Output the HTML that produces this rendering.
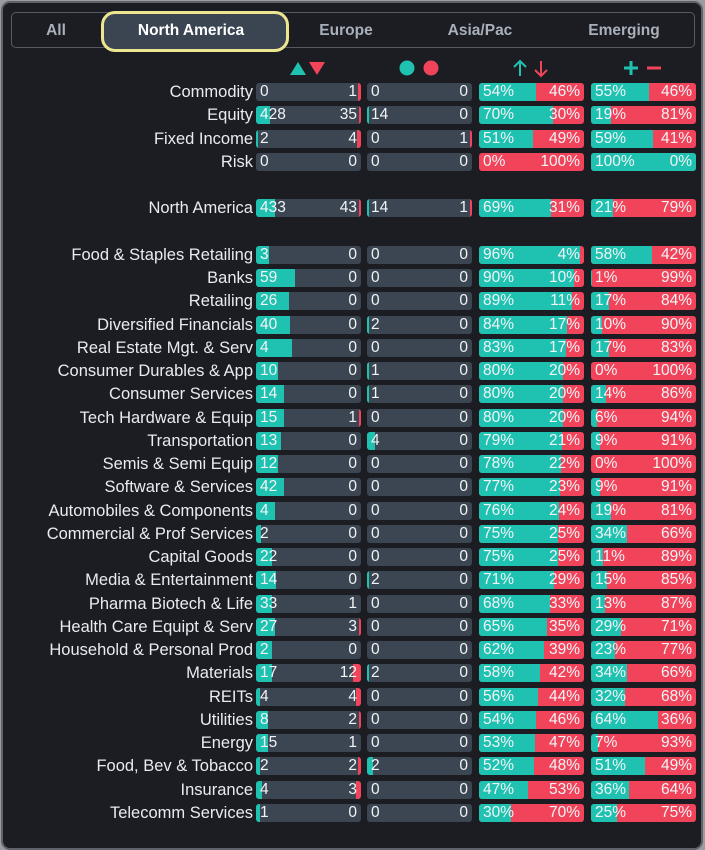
<!DOCTYPE html>
<html><head><meta charset="utf-8">
<style>
html,body{margin:0;padding:0;background:#9a9ca0;}
#panel{position:absolute;left:1px;top:1px;width:698px;height:845px;background:#1b1d22;border:2px solid #5e636b;border-radius:9px;overflow:hidden;font-family:"Liberation Sans",sans-serif;}
.tabs{position:absolute;left:8px;top:9px;width:682px;height:34px;border:1.5px solid #565b63;border-radius:5px;}
.tab{position:absolute;top:19px;font-size:15.5px;font-weight:bold;color:#aab0ba;transform:translateX(-50%);white-space:nowrap;}
.sel{position:absolute;left:98px;top:8px;width:188px;height:41px;border:3px solid #ece690;border-radius:14px;background:#3b4552;box-sizing:border-box;}
.lbl{position:absolute;right:448px;font-size:16.5px;line-height:18px;color:#e8ecf2;white-space:nowrap;}
.bar{position:absolute;height:18px;background:#3c4652;border-radius:3px;overflow:hidden;}
.pbar{background:#f1445b;}
.fill{position:absolute;left:0;top:0;height:100%;background:#1fc2b0;}
.rfill{position:absolute;right:0;top:0;height:100%;background:#f1445b;}
.tl,.tr{position:absolute;top:0;line-height:18px;font-size:15.5px;color:#f2f4f6;}
.tl{left:4px}.tr{right:4px}
</style></head><body>
<div id="panel">
<div class="tabs"></div>
<div class="sel"></div>
<div class="tab" style="left:53px">All</div>
<div class="tab" style="left:188px;color:#fff">North America</div>
<div class="tab" style="left:343px">Europe</div>
<div class="tab" style="left:477px">Asia/Pac</div>
<div class="tab" style="left:621px">Emerging</div>
<svg style="position:absolute;left:-3px;top:-3px" width="700" height="90">
<polygon points="290,75 298,62 306,75" fill="#1fc2b0"/><polygon points="309,62 325,62 317,75" fill="#f1445b"/>
<circle cx="407" cy="68" r="7.5" fill="#1fc2b0"/><circle cx="431" cy="68" r="7.5" fill="#f1445b"/>
<path d="M520,76 V61 M514,67 L520,61 L526,67" stroke="#1fc2b0" stroke-width="2" fill="none"/>
<path d="M541,61 V76 M535,70 L541,76 L547,70" stroke="#f1445b" stroke-width="2" fill="none"/>
<path d="M624,68 H638 M631,61 V75" stroke="#1fc2b0" stroke-width="3"/>
<path d="M647,68 H661" stroke="#f1445b" stroke-width="3"/>
</svg>
<div id="rows"></div>
</div>
<script>
const labels=["Commodity","Equity","Fixed Income","Risk",null,"North America",null,"Food & Staples Retailing","Banks","Retailing","Diversified Financials","Real Estate Mgt. & Serv","Consumer Durables & App","Consumer Services","Tech Hardware & Equip","Transportation","Semis & Semi Equip","Software & Services","Automobiles & Components","Commercial & Prof Services","Capital Goods","Media & Entertainment","Pharma Biotech & Life","Health Care Equipt & Serv","Household & Personal Prod","Materials","REITs","Utilities","Energy","Food, Bev & Tobacco","Insurance","Telecomm Services"];
const upCount=[0,428,2,0,null,433,null,3,59,26,40,4,10,14,15,13,12,42,4,2,22,14,33,27,2,17,4,8,15,2,4,1];
const downCount=[1,35,4,0,null,43,null,0,0,0,0,0,0,0,1,0,0,0,0,0,0,0,1,3,0,12,4,2,1,2,3,0];
const upShare=[0,.13,.02,0,null,.18,null,.12,.37,.31,.32,.34,.21,.27,.27,.24,.21,.27,.18,.05,.15,.19,.15,.18,.15,.15,.04,.11,.11,.04,.06,.04];
const downShare=[.03,.02,.04,0,null,.02,null,0,0,0,0,0,0,0,.01,0,0,0,0,0,0,0,0,.02,0,.08,.05,.02,0,.03,.05,0];
const newHigh=[0,14,0,0,null,14,null,0,0,0,2,0,1,1,0,4,0,0,0,0,0,2,0,0,0,2,0,0,0,2,0,0];
const newLow=[0,0,1,0,null,1,null,0,0,0,0,0,0,0,0,0,0,0,0,0,0,0,0,0,0,0,0,0,0,0,0,0];
const highShare=[0,.01,0,0,null,.01,null,0,0,0,.02,0,.02,.02,0,.08,0,0,0,0,0,.02,0,0,0,.02,0,0,0,.06,0,0];
const lowShare=[0,0,.01,0,null,.01,null,0,0,0,0,0,0,0,0,0,0,0,0,0,0,0,0,0,0,0,0,0,0,0,0,0];
const advPct=[54,70,51,0,null,69,null,96,90,89,84,83,80,80,80,79,78,77,76,75,75,71,68,65,62,58,56,54,53,52,47,30];
const decPct=[46,30,49,100,null,31,null,4,10,11,17,17,20,20,20,21,22,23,24,25,25,29,33,35,39,42,44,46,47,48,53,70];
const posPct=[55,19,59,100,null,21,null,58,1,17,10,17,0,14,6,9,0,9,19,34,11,15,13,29,23,34,32,64,7,51,36,25];
const negPct=[46,81,41,0,null,79,null,42,99,84,90,83,100,86,94,91,100,91,81,66,89,85,87,71,77,66,68,36,93,49,64,75];

const W=105, ROW0=80, RH=23.25, cols=[253,364,476,588];
const host=document.getElementById('rows');
function yOf(i){return ROW0+i*RH;}
function mk(cls,css,parent){const d=document.createElement('div');d.className=cls;d.style.cssText=css;parent.appendChild(d);return d;}
labels.forEach((lab,i)=>{
  if(lab===null) return;
  const y=yOf(i);
  const l=mk('lbl','top:'+y+'px',host);l.textContent=lab;
  
  
  [[upCount,downCount,upShare,downShare,'up-down-bar'],[newHigh,newLow,highShare,lowShare,'high-low-bar']].forEach((s,k)=>{
    const b=mk('bar','left:'+cols[k]+'px;top:'+y+'px;width:'+W+'px',host);
    
    
    if(s[2][i]>0){mk('fill','width:'+Math.max(2,s[2][i]*W)+'px',b);}
    if(s[3][i]>0){mk('rfill','width:'+Math.max(2,s[3][i]*W)+'px',b);}
    mk('tl','',b).textContent=s[0][i];
    mk('tr','',b).textContent=s[1][i];
  });
  [[advPct,decPct,'adv-dec-pct-bar'],[posPct,negPct,'pos-neg-pct-bar']].forEach((s,k)=>{
    const b=mk('bar pbar','left:'+cols[k+2]+'px;top:'+y+'px;width:'+W+'px',host);
    
    
    mk('fill','width:'+(s[0][i]/100*W)+'px',b);
    mk('tl','',b).textContent=s[0][i]+'%';
    mk('tr','',b).textContent=s[1][i]+'%';
  });
});
</script>
</body></html>
